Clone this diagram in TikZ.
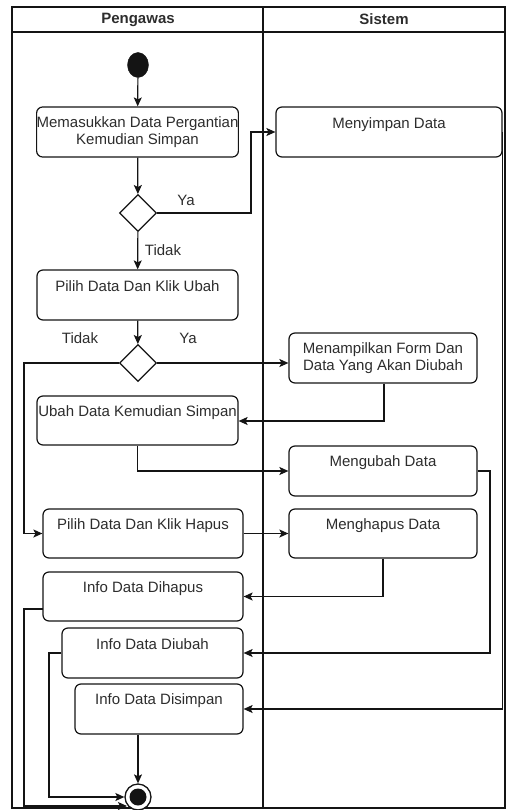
\documentclass[tikz,border=0pt]{standalone}
\usepackage{fontspec}
\setmainfont{Liberation Sans}
\usetikzlibrary{arrows.meta,shapes.geometric,calc}
\definecolor{ink}{RGB}{20,20,20}
\definecolor{txt}{RGB}{45,45,45}
\begin{document}
\begin{tikzpicture}[x=1pt,y=-1pt,
  every node/.style={font=\fontsize{15}{17}\selectfont, text=txt},
  act/.style={draw=ink, line width=1.2pt, rounded corners=6pt, fill=white,
    inner sep=0pt, align=center},
  lbl/.style={inner sep=0pt, anchor=center},
  flow/.style={draw=ink, line width=1.2pt, -{Stealth[length=9pt,width=8pt,inset=2pt]}},
  frame/.style={draw=ink, line width=1.3pt}]
\useasboundingbox (0,0) rectangle (506,810);

% swimlanes
\draw[frame] (12,7) rectangle (505,808);
\draw[frame] (12,32) -- (505,32);
\draw[frame] (263,7) -- (263,808);
\node[lbl, font=\fontsize{15}{17}\selectfont\bfseries] (lane1) at (138,19.5) {Pengawas};
\node[lbl, font=\fontsize{15}{17}\selectfont\bfseries] (lane2) at (384,19.5) {Sistem};

% start / end
\node[ellipse, fill=ink, draw=ink, minimum width=21pt, minimum height=25pt, inner sep=0pt] (start) at (138,65) {};
\node[circle, draw=ink, line width=1.3pt, fill=white, minimum size=26pt, inner sep=0pt] (end) at (138,797) {};
\node[circle, fill=ink, minimum size=17pt, inner sep=0pt] (endin) at (138,797) {};

% activities
\node[act, minimum width=201pt, minimum height=50pt] (b1) at (137.5,132) {Memasukkan Data Pergantian\\Kemudian Simpan};
\node[act, minimum width=226pt, minimum height=50pt] (sim) at (389,132) {};
\node[lbl] (simt) at ($(sim.north)+(0,18)$) {Menyimpan Data};

\node[diamond, draw=ink, line width=1.2pt, fill=white, minimum width=37pt, minimum height=37pt, inner sep=0pt] (d1) at (138,213) {};

\node[act, minimum width=201pt, minimum height=50pt] (b2) at (137.5,295) {};
\node[lbl] (b2t) at ($(b2.north)+(0,17)$) {Pilih Data Dan Klik Ubah};

\node[diamond, draw=ink, line width=1.2pt, fill=white, minimum width=37pt, minimum height=37pt, inner sep=0pt] (d2) at (138,363) {};

\node[act, minimum width=188pt, minimum height=50pt] (tampil) at (383,358) {Menampilkan Form Dan\\Data Yang Akan Diubah};

\node[act, minimum width=201pt, minimum height=49pt] (ubah) at (137.5,420.5) {};
\node[lbl] (ubaht) at ($(ubah.north)+(0,17)$) {Ubah Data Kemudian Simpan};

\node[act, minimum width=188pt, minimum height=50pt] (mengubah) at (383,471) {};
\node[lbl] (mengubaht) at ($(mengubah.north)+(0,17)$) {Mengubah Data};

\node[act, minimum width=200pt, minimum height=49pt] (hapus) at (143,533.5) {};
\node[lbl] (hapust) at ($(hapus.north)+(0,17)$) {Pilih Data Dan Klik Hapus};

\node[act, minimum width=188pt, minimum height=49pt] (menghapus) at (383,533.5) {};
\node[lbl] (menghapust) at ($(menghapus.north)+(0,17)$) {Menghapus Data};

\node[act, minimum width=200pt, minimum height=49pt] (idhapus) at (143,596.5) {};
\node[lbl] (idhapust) at ($(idhapus.north)+(0,17)$) {Info Data Dihapus};

\node[act, minimum width=181pt, minimum height=50pt] (idubah) at (152.5,653) {};
\node[lbl] (idubaht) at ($(idubah.north)+(0,17)$) {Info Data Diubah};

\node[act, minimum width=168pt, minimum height=50pt] (idsimpan) at (159,709) {};
\node[lbl] (idsimpant) at ($(idsimpan.north)+(0,17)$) {Info Data Disimpan};

% guard labels
\node[lbl] (ya1) at (186,200) {Ya};
\node[lbl] (tidak1) at (163,250) {Tidak};
\node[lbl] (tidak2) at (80,338) {Tidak};
\node[lbl] (ya2) at (188,338) {Ya};

% helper points
\coordinate (j1) at (251,213);
\coordinate (j2) at (24,363);
\coordinate (j3) at (384,421);
\coordinate (j4) at (490,471);
\coordinate (ohap) at (43,609);
\coordinate (ohapb) at (24,806);
\coordinate (endsw) at (127,806);
\coordinate (oub) at (49,653);

% connectors
\draw[flow] (start) -- (b1);
\draw[flow] (b1) -- (d1);
\draw[flow] (d1.east) -- (j1) |- (sim.west);
\draw[flow] (d1) -- (b2);
\draw[flow] (b2) -- (d2);
\draw[flow] (d2.east) -- (d2.east -| tampil.west);
\draw[flow] (d2.west) -- (j2) |- (hapus.west);
\draw[flow] (tampil.south -| j3) -- (j3) -- (j3 -| ubah.east);
\draw[flow] (ubah.south) |- (mengubah.west);
\draw[flow] (mengubah.east) -- (j4) |- (idubah.east);
\draw[flow] (hapus.east) -- (menghapus.west);
\draw[flow] (menghapus.south) |- (idhapus.east);
\draw[flow] (sim.east) -- (sim.east |- idsimpan.east) -- (idsimpan.east);
\draw[flow] (idsimpan.south -| end.north) -- (end.north);
\draw[flow] (ohap) -- (ohap -| ohapb) -- (ohapb) -- (endsw);
\draw[flow] (idubah.west |- oub) -- (oub) |- (end.west);
\end{tikzpicture}
\end{document}
